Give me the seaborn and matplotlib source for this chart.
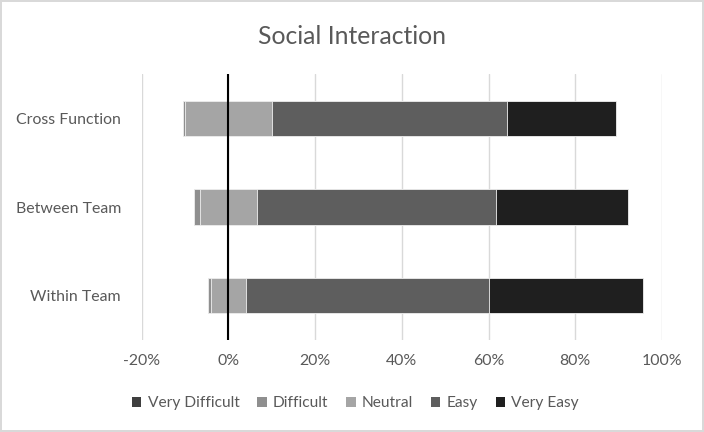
import matplotlib
matplotlib.use("Agg")
import matplotlib.pyplot as plt
from matplotlib.patches import Patch
import seaborn as sns
import pandas as pd

categories = ["Cross Function", "Between Team", "Within Team"]
very_difficult = [0.0, 0.0, 0.0]
difficult = [0.4, 1.4, 0.6]
neutral = [20.0, 13.3, 8.1]
easy = [54.3, 55.1, 56.1]
very_easy = [25.2, 30.5, 35.4]
series_names = ["Very Difficult", "Difficult", "Neutral", "Easy", "Very Easy"]
xticks = [-20, 0, 20, 40, 60, 80, 100]
xtick_labels = ["-20%", "0%", "20%", "40%", "60%", "80%", "100%"]
title = "Social Interaction"

colors = {"Very Difficult": "#3f3f3f", "Difficult": "#8f8f8f", "Neutral": "#a5a5a5",
          "Easy": "#5e5e5e", "Very Easy": "#1f1f1f"}

sns.set_theme(style="white")
plt.rcParams["font.family"] = ["Lato", "DejaVu Sans"]

df = pd.DataFrame({"cat": categories, "vd": very_difficult, "d": difficult,
                   "n": neutral, "e": easy, "ve": very_easy})
# cumulative extents (diverging around neutral midpoint)
df["neg_n"] = -df["n"] / 2
df["neg_d"] = df["neg_n"] - df["d"]
df["neg_vd"] = df["neg_d"] - df["vd"]
df["pos_n"] = df["n"] / 2
df["pos_e"] = df["pos_n"] + df["e"]
df["pos_ve"] = df["pos_e"] + df["ve"]

fig = plt.figure(figsize=(7.04, 4.32), dpi=100)
fig.patch.set_facecolor("white")
fig.patch.set_edgecolor("#d9d9d9")
fig.patch.set_linewidth(1.5)
ax = fig.add_axes([0.2013, 0.2135, 0.7390, 0.6146])

layers = [("pos_ve", "Very Easy"), ("pos_e", "Easy"), ("pos_n", "Neutral"),
          ("neg_vd", "Very Difficult"), ("neg_d", "Difficult"), ("neg_n", "Neutral")]
for col, name in layers:
    sns.barplot(data=df, y="cat", x=col, orient="h", color=colors[name],
                width=0.4, saturation=1, edgecolor="#f0f0f0", linewidth=0.6, ax=ax)

ax.set_xlim(-20, 100)
ax.set_xticks(xticks)
ax.set_xticklabels(xtick_labels)
ax.set_xlabel("")
ax.set_ylabel("")
ax.grid(axis="x", color="#d9d9d9", linewidth=1)
ax.set_axisbelow(True)
ax.axvline(0, color="black", linewidth=1.5, zorder=5)
for s in ax.spines.values():
    s.set_visible(False)
ax.tick_params(axis="both", length=0, labelsize=11.4, labelcolor="#595959")
ax.tick_params(axis="y", pad=15)
ax.tick_params(axis="x", pad=10)

fig.text(0.5, 0.915, title, ha="center", va="center", fontsize=17.8, color="#595959")

handles = [Patch(facecolor=colors[n], edgecolor="none") for n in series_names]
fig.legend(handles, series_names, loc="center", bbox_to_anchor=(0.505, 0.067), ncol=5,
           frameon=False, fontsize=11.2, handlelength=0.6, handleheight=0.6,
           handletextpad=0.4, columnspacing=1.15, labelcolor="#595959")

fig.savefig("out.png", dpi=100)
